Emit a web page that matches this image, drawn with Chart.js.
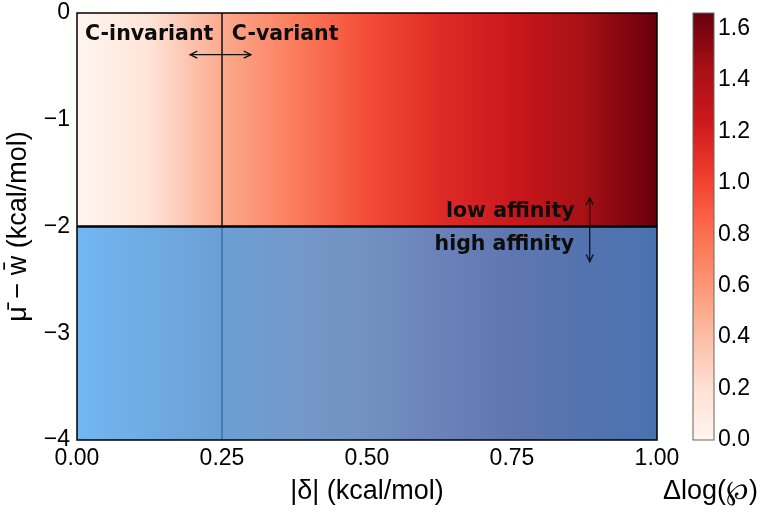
<!DOCTYPE html>
<html>
<head>
<meta charset="utf-8">
<script src="https://cdn.jsdelivr.net/npm/chart.js@4.4.1/dist/chart.umd.min.js"></script>
<style>
body { margin: 0; background: #fff; }
#wrap { position: relative; width: 764px; height: 514px; }
#main { position: absolute; left: 0; top: 0; }
#cbar { position: absolute; left: 640px; top: 0; }
</style>
</head>
<body>
<div id="wrap">
  <canvas id="main" width="764" height="514"></canvas>
  <canvas id="cbar" width="124" height="514"></canvas>
</div>
<script>
// |delta| grid and the colour value (delta log) read across the low affinity band
const deltaGrid = [0, 0.125, 0.25, 0.375, 0.5, 0.625, 0.75, 0.875, 1.0];
const dlogLow = [0, 0.17, 0.50, 0.73, 0.96, 1.13, 1.25, 1.44, 1.66];
const cbarMax = 1.66;

// band limits on the y axis
const yTop = 0, yThreshold = -2, yBottom = -4;
const cBoundary = 0.25;

const xTicks = [0, 0.25, 0.5, 0.75, 1.0];
const yTicks = [0, -1, -2, -3, -4];
const cbarTicks = [0, 0.2, 0.4, 0.6, 0.8, 1.0, 1.2, 1.4, 1.6];

// high affinity band colours along deltaGrid (not on the colour scale)
const highBlue = ['#72b7f2', '#6fabe3', '#6b9fd4', '#7499ca', '#7191c2', '#6b82b9', '#5f77b1', '#5373ae', '#4a72b0'];

const redsStops = ['#fff5f0', '#fee0d2', '#fcbba1', '#fc9272', '#fb6a4a', '#ef3b2c', '#cb181d', '#a50f15', '#67000d'];

function hexRgb(h) {
    return [parseInt(h.slice(1, 3), 16), parseInt(h.slice(3, 5), 16), parseInt(h.slice(5, 7), 16)];
}

function reds(t) {
    t = Math.min(1, Math.max(0, t));
    let p = t * (redsStops.length - 1);
    let i = Math.min(Math.floor(p), redsStops.length - 2);
    let f = p - i;
    let a = hexRgb(redsStops[i]), b = hexRgb(redsStops[i + 1]);
    let c = a.map((v, k) => Math.round(v + (b[k] - v) * f));
    return `rgb(${c[0]},${c[1]},${c[2]})`;
}

function hGradient(chart, colours) {
    const { ctx, chartArea, scales } = chart;
    if (!chartArea) return 'rgba(0,0,0,0)';
    let d0 = deltaGrid[0], d1 = deltaGrid[deltaGrid.length - 1];
    let g = ctx.createLinearGradient(scales.x.getPixelForValue(d0), 0, scales.x.getPixelForValue(d1), 0);
    deltaGrid.forEach((d, i) => g.addColorStop((d - d0) / (d1 - d0), colours[i]));
    return g;
}

const notes = [
    { text: 'C-invariant', x: 0.235, y: -0.2, align: 'right' },
    { text: 'C-variant', x: 0.267, y: -0.2, align: 'left' },
    { text: 'low affinity', x: 0.858, y: -1.86, align: 'right' },
    { text: 'high affinity', x: 0.857, y: -2.17, align: 'right' }
];
const arrows = [
    { x0: 0.195, y0: -0.39, x1: 0.30, y1: -0.39 },
    { x0: 0.884, y0: -1.73, x1: 0.884, y1: -2.33 }
];

function arrowHead(ctx, x, y, ang) {
    let len = 8, w = 0.45;
    ctx.beginPath();
    ctx.moveTo(x - len * Math.cos(ang - w), y - len * Math.sin(ang - w));
    ctx.lineTo(x, y);
    ctx.lineTo(x - len * Math.cos(ang + w), y - len * Math.sin(ang + w));
    ctx.stroke();
}

const framePlugin = {
    id: 'frame',
    afterDatasetsDraw(chart) {
        const { ctx, chartArea: a } = chart;
        ctx.save();
        ctx.strokeStyle = chart.canvas.id === 'main' ? '#000' : '#666';
        ctx.lineWidth = chart.canvas.id === 'main' ? 1.5 : 1;
        ctx.strokeRect(a.left, a.top, a.right - a.left, a.bottom - a.top);
        ctx.restore();
    }
};

const notesPlugin = {
    id: 'notes',
    afterDatasetsDraw(chart) {
        const { ctx, scales } = chart;
        ctx.save();
        ctx.fillStyle = '#0d0d0d';
        ctx.strokeStyle = '#111';
        ctx.font = 'bold 20.5px "DejaVu Sans"';
        ctx.textBaseline = 'middle';
        notes.forEach(n => {
            ctx.textAlign = n.align;
            ctx.fillText(n.text, scales.x.getPixelForValue(n.x), scales.y.getPixelForValue(n.y));
        });
        ctx.lineWidth = 1.3;
        arrows.forEach(r => {
            let x0 = scales.x.getPixelForValue(r.x0), y0 = scales.y.getPixelForValue(r.y0);
            let x1 = scales.x.getPixelForValue(r.x1), y1 = scales.y.getPixelForValue(r.y1);
            ctx.beginPath();
            ctx.moveTo(x0, y0);
            ctx.lineTo(x1, y1);
            ctx.stroke();
            let ang = Math.atan2(y1 - y0, x1 - x0);
            arrowHead(ctx, x1, y1, ang);
            arrowHead(ctx, x0, y0, ang + Math.PI);
        });
        ctx.restore();
    }
};

const cbarLabelPlugin = {
    id: 'cbarLabel',
    afterDraw(chart) {
        const { ctx, chartArea: a } = chart;
        ctx.save();
        ctx.fillStyle = '#000';
        ctx.font = '27px "Liberation Sans", Arial, sans-serif';
        ctx.textAlign = 'center';
        ctx.textBaseline = 'middle';
        ctx.fillText('Δlog(℘)', (a.left + a.right) / 2 + 7, a.bottom + 52);
        ctx.restore();
    }
};

const tickFont = { family: '"Liberation Sans", Arial, sans-serif', size: 23 };
const titleFont = { family: '"Liberation Sans", Arial, sans-serif', size: 27 };

function noEdgePad(s) {
    s.paddingTop = 0;
    s.paddingBottom = 0;
}

new Chart(document.getElementById('main'), {
    type: 'line',
    data: {
        datasets: [
            {
                label: 'low affinity',
                data: [{ x: deltaGrid[0], y: yTop }, { x: deltaGrid[deltaGrid.length - 1], y: yTop }],
                fill: { value: yThreshold },
                backgroundColor: c => hGradient(c.chart, dlogLow.map(v => reds(v / cbarMax))),
                borderWidth: 0, pointRadius: 0, order: 10
            },
            {
                label: 'high affinity',
                data: [{ x: deltaGrid[0], y: yThreshold }, { x: deltaGrid[deltaGrid.length - 1], y: yThreshold }],
                fill: { value: yBottom },
                backgroundColor: c => hGradient(c.chart, highBlue),
                borderWidth: 0, pointRadius: 0, order: 10
            },
            {
                label: 'C boundary (low)',
                data: [{ x: cBoundary, y: yTop }, { x: cBoundary, y: yThreshold }],
                borderColor: '#111', borderWidth: 1.5, pointRadius: 0, fill: false, order: 2
            },
            {
                label: 'C boundary (high)',
                data: [{ x: cBoundary, y: yThreshold }, { x: cBoundary, y: yBottom }],
                borderColor: '#2e64a2', borderWidth: 1.2, pointRadius: 0, fill: false, order: 2
            },
            {
                label: 'threshold',
                data: [{ x: deltaGrid[0], y: yThreshold }, { x: deltaGrid[deltaGrid.length - 1], y: yThreshold }],
                borderColor: '#000', borderWidth: 2.5, pointRadius: 0, fill: false, order: 1
            }
        ]
    },
    options: {
        responsive: false,
        animation: false,
        events: [],
        layout: { padding: { left: 0, top: 13, right: 107, bottom: 0 } },
        plugins: { legend: { display: false }, tooltip: { enabled: false } },
        scales: {
            x: {
                type: 'linear',
                min: xTicks[0], max: xTicks[xTicks.length - 1],
                afterBuildTicks: s => { s.ticks = xTicks.map(v => ({ value: v })); },
                afterFit: s => { s.height = 74; },
                grid: { display: false, drawTicks: false },
                border: { display: false },
                ticks: { font: tickFont, color: '#000', padding: 5, maxRotation: 0, callback: v => v.toFixed(2) },
                title: { display: true, text: '|δ| (kcal/mol)', font: titleFont, color: '#000', padding: { top: 2, bottom: 6 } }
            },
            y: {
                type: 'linear',
                min: yBottom, max: yTop,
                afterBuildTicks: s => { s.ticks = yTicks.map(v => ({ value: v })); },
                afterFit: s => { s.width = 77; noEdgePad(s); },
                grid: { display: false, drawTicks: false },
                border: { display: false },
                ticks: { font: tickFont, color: '#000', padding: 7, callback: v => (v < 0 ? '\u2212' + Math.abs(v) : String(v)) },
                title: { display: true, text: 'μ\u0304 \u2212 w\u0304 (kcal/mol)', font: titleFont, color: '#000', padding: { top: 2, bottom: 2 } }
            }
        }
    },
    plugins: [framePlugin, notesPlugin]
});

new Chart(document.getElementById('cbar'), {
    type: 'bar',
    data: {
        labels: ['Δlog'],
        datasets: [{
            data: [cbarMax],
            backgroundColor: c => {
                const { ctx, chartArea, scales } = c.chart;
                if (!chartArea) return 'rgba(0,0,0,0)';
                let g = ctx.createLinearGradient(0, scales.y.getPixelForValue(0), 0, scales.y.getPixelForValue(cbarMax));
                redsStops.forEach((col, i) => g.addColorStop(i / (redsStops.length - 1), col));
                return g;
            },
            barPercentage: 1, categoryPercentage: 1, borderWidth: 0
        }]
    },
    options: {
        responsive: false,
        animation: false,
        events: [],
        layout: { padding: { left: 53, top: 13, right: 0, bottom: 0 } },
        plugins: { legend: { display: false }, tooltip: { enabled: false } },
        scales: {
            x: {
                afterFit: s => { s.height = 74; },
                grid: { display: false, drawTicks: false },
                border: { display: false },
                ticks: { display: false }
            },
            y: {
                position: 'right',
                min: 0, max: cbarMax,
                afterBuildTicks: s => { s.ticks = cbarTicks.map(v => ({ value: v })); },
                afterFit: s => { s.width = 50; noEdgePad(s); },
                grid: { display: false, drawTicks: false },
                border: { display: false },
                ticks: { font: tickFont, color: '#000', padding: 4, callback: v => v.toFixed(1) }
            }
        }
    },
    plugins: [framePlugin, cbarLabelPlugin]
});
</script>
</body>
</html>
